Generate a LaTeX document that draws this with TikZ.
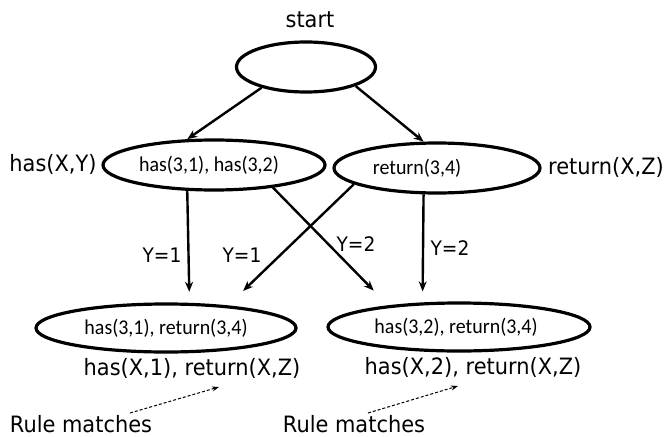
\documentclass[tikz,border=0pt]{standalone}
\usepackage{fontspec}
\setmainfont{DejaVu Sans}
\newfontfamily\labelfont[FakeStretch=0.93]{DejaVu Sans}
\newfontfamily\boxfont[FakeStretch=0.95]{Carlito}
\usetikzlibrary{arrows.meta,shapes.geometric}
\begin{document}
\begin{tikzpicture}[x=1pt,y=-1pt,
  state/.style={draw=black,line width=3.2pt,ellipse,inner sep=0pt,font=\boxfont\fontsize{21}{24}\selectfont},
  lbl/.style={inner sep=0pt,font=\labelfont\fontsize{22.5}{25}\selectfont},
  edgelbl/.style={inner sep=0pt,font=\labelfont\fontsize{20}{22}\selectfont},
  flow/.style={line width=2.4pt,-{Stealth[length=10pt,width=8pt]}},
  hint/.style={densely dashed,line width=1pt,-{Stealth[length=7pt,width=5pt]}}]
\useasboundingbox (0,0) rectangle (671,436);

% states
\node[state,minimum width=139pt,minimum height=50pt] (top) at (306,67) {};
\node[state,minimum width=222pt,minimum height=50pt] (hasL) at (214,165) {\hspace*{-10pt}has(3,1), has(3,2)};
\node[state,minimum width=206pt,minimum height=50pt] (retR) at (437,168) {\hspace*{-40pt}return(3,4)};
\node[state,minimum width=260pt,minimum height=48pt] (botL) at (166,328) {has(3,1), return(3,4)};
\node[state,minimum width=262pt,minimum height=48pt] (botR) at (459,327) {\hspace*{-6pt}has(3,2), return(3,4)};

% labels beside the states
\node[lbl] (tstart) at (310,20) {start};
\node[lbl] (tleft) at (53,164) {has(X,Y)};
\node[lbl] (tright) at (606,167) {return(X,Z)};
\node[lbl] (tbotL) at (192,368) {has(X,1), return(X,Z)};
\node[lbl] (tbotR) at (473,367) {has(X,2), return(X,Z)};
\node[lbl,anchor=base] (ruleL) at (81,432) {Rule matches};
\node[lbl,anchor=base] (ruleR) at (354,432) {Rule matches};

% transitions
\draw[flow] (top.205) -- (hasL.136);
\draw[flow] (top.-21) -- (retR.117.7);
\draw[flow,shorten >=11pt] (hasL.-136.9) -- (botL.47.1);
\draw[flow,shorten >=20.7pt] (hasL.-21.6) -- (botR.163);
\draw[flow,shorten >=21pt] (retR.-169.8) -- (botL.20.9);
\draw[flow,shorten >=11pt] (retR.-117.7) -- (botR.146.6);

% substitutions
\node[edgelbl] (y1a) at (162,255) {Y=1};
\node[edgelbl] (y1b) at (242,255) {Y=1};
\node[edgelbl] (y2a) at (356,244) {Y=2};
\node[edgelbl] (y2b) at (450,248) {Y=2};

% rule hints
\coordinate (hL) at (130,413);
\coordinate (hLend) at (219,387);
\coordinate (hR) at (368,413);
\coordinate (hRend) at (458,386);
\draw[hint] (hL) -- (hLend);
\draw[hint] (hR) -- (hRend);
\end{tikzpicture}
\end{document}
